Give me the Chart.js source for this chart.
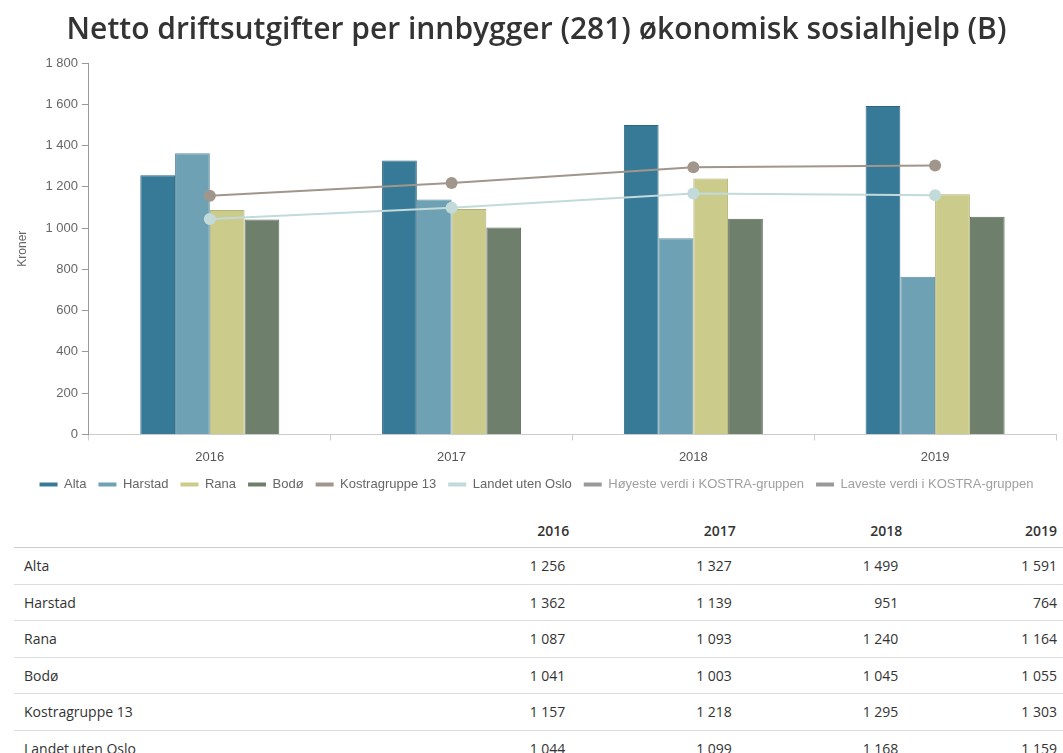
<!DOCTYPE html>
<html>
<head>
<meta charset="utf-8">
<script src="https://cdn.jsdelivr.net/npm/chart.js@4"></script>
<style>
  body { margin: 0; background: #fff; font-family: "Open Sans", sans-serif; }
  #wrap { position: relative; width: 1063px; height: 505px; }
  table { position: absolute; left: 14px; top: 513px; width: 1049px; border-collapse: collapse; font-size: 14px; color: #333; }
  th { font-weight: 600; text-align: right; height: 34px; padding: 0 6px 0 0; border-bottom: 1px solid #ccc; }
  td { height: 35.5px; padding: 0 10px 0 10px; border-bottom: 1px solid #ddd; text-align: right; }
  th:last-child { padding-right: 6px; }
  td:last-child { padding-right: 6px; }
  td:first-child, th:first-child { text-align: left; }
</style>
</head>
<body>
<div id="wrap"><canvas id="chart"></canvas></div>
<table id="tbl"></table>
<script>
// Chart data
const years = ['2016', '2017', '2018', '2019'];
const alta = [1256, 1327, 1499, 1591];
const harstad = [1362, 1139, 951, 764];
const rana = [1087, 1093, 1240, 1164];
const bodo = [1041, 1003, 1045, 1055];
const kostra13 = [1157, 1218, 1295, 1303];
const landet = [1044, 1099, 1168, 1159];
const yTicks = [0, 200, 400, 600, 800, 1000, 1200, 1400, 1600, 1800];

function fmt(v) {
    return String(v).replace(/\B(?=(\d{3})+(?!\d))/g, ' ');
}

// Table under the chart
(function buildTable() {
    const rows = [['Alta', alta], ['Harstad', harstad], ['Rana', rana], ['Bodø', bodo],
                  ['Kostragruppe 13', kostra13], ['Landet uten Oslo', landet]];
    let html = '<tr><th></th>' + years.map(y => '<th>' + y + '</th>').join('') + '</tr>';
    rows.forEach(r => {
        html += '<tr><td>' + r[0] + '</td>' + r[1].map(v => '<td>' + fmt(v) + '</td>').join('') + '</tr>';
    });
    document.getElementById('tbl').innerHTML = html;
})();

function bar(label, data, color, border) {
    return { type: 'bar', label, data, backgroundColor: color, borderColor: border, borderWidth: 1,
             barPercentage: 1, categoryPercentage: 0.575, order: 2 };
}
function line(label, data, color, legendText) {
    return { type: 'line', label, data, borderColor: color, backgroundColor: color, borderWidth: 2,
             pointRadius: 6, pointHoverRadius: 7, pointBorderWidth: 0, order: 1, legendText };
}

const datasets = [
    bar('Alta', alta, '#367a98', '#2c6680'),
    bar('Harstad', harstad, '#6fa1b4', '#5f8fa2'),
    bar('Rana', rana, '#cbcb8c', '#b3b377'),
    bar('Bodø', bodo, '#6e7f6b', '#5d6d5a'),
    line('Kostragruppe 13', kostra13, '#a0968c', '#666'),
    line('Landet uten Oslo', landet, '#c2dada', '#666'),
    line('Høyeste verdi i KOSTRA-gruppen', [null, null, null, null], '#999', '#a0a0a0'),
    line('Laveste verdi i KOSTRA-gruppen', [null, null, null, null], '#999', '#a0a0a0')
];

new Chart(document.getElementById('chart'), {
    data: { labels: years, datasets },
    options: {
        responsive: true,
        maintainAspectRatio: false,
        animation: false,
        layout: { padding: { left: 11, right: 1, top: 0, bottom: 4 } },
        plugins: {
            title: {
                display: true,
                text: 'Netto driftsutgifter per innbygger (281) økonomisk sosialhjelp (B)',
                color: '#333',
                font: { family: 'Open Sans', size: 30, weight: '600' },
                padding: { top: 12, bottom: 15 }
            },
            legend: {
                position: 'bottom',
                labels: {
                    font: { family: 'Liberation Sans', size: 13 },
                    boxWidth: 18, boxHeight: 4, padding: 12,
                    generateLabels: function (chart) {
                        return chart.data.datasets.map((ds, i) => ({
                            text: ds.label,
                            fillStyle: ds.type === 'bar' ? ds.backgroundColor : ds.borderColor,
                            strokeStyle: 'transparent',
                            lineWidth: 0,
                            fontColor: ds.legendText || '#666',
                            hidden: false,
                            datasetIndex: i
                        }));
                    }
                }
            },
            tooltip: { enabled: false }
        },
        scales: {
            x: {
                offset: true,
                afterFit: scale => { scale.height -= 8; },
                grid: { display: true, drawOnChartArea: false, offset: true, tickLength: 6, color: '#ccc' },
                border: { color: '#ccc' },
                ticks: { color: '#555', font: { family: 'Liberation Sans', size: 13 }, padding: 9 }
            },
            y: {
                min: 0, max: 1800,
                afterBuildTicks: axis => { axis.ticks = yTicks.map(v => ({ value: v })); },
                grid: { display: true, drawOnChartArea: false, tickLength: 7, color: '#999' },
                border: { color: '#999' },
                title: { display: true, text: 'Kroner', color: '#666', padding: { top: 4, bottom: 12 },
                         font: { family: 'Liberation Sans', size: 12 } },
                ticks: { color: '#666', font: { family: 'Liberation Sans', size: 13 }, padding: 4, callback: v => fmt(v) }
            }
        }
    }
});
</script>
</body>
</html>
